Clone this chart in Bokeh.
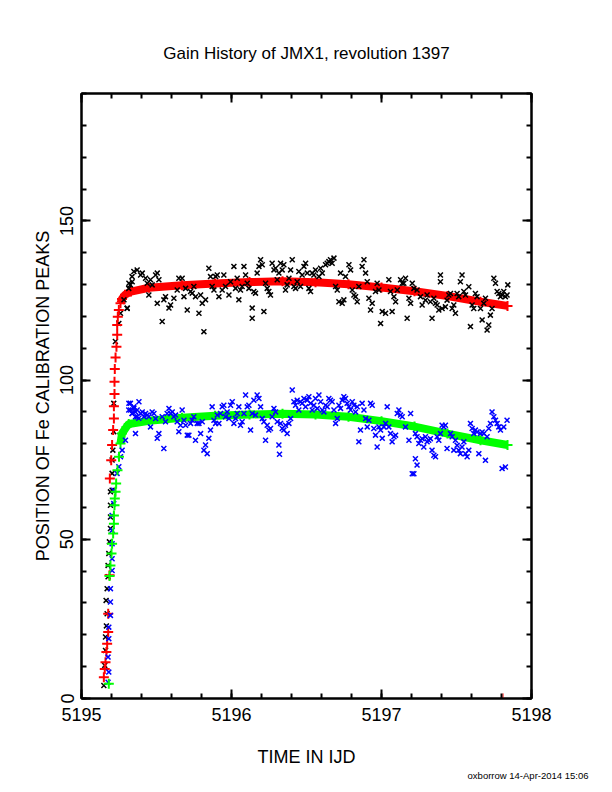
from bokeh.plotting import figure
from bokeh.models import (Range1d, LinearAxis, SingleIntervalTicker, Title,
                          CustomJSTickFormatter)
from bokeh.embed import file_html
from bokeh.resources import INLINE

FONT = "Liberation Sans"

# fitted gain (red, peak 1): steep start-up, then the smooth band
fit1_rise_t = [5195.149, 5195.155, 5195.160, 5195.166, 5195.171, 5195.178, 5195.178,
               5195.187, 5195.189, 5195.198, 5195.204, 5195.211, 5195.216, 5195.216,
               5195.220, 5195.220, 5195.222, 5195.227, 5195.233, 5195.238, 5195.238,
               5195.242, 5195.249]
fit1_rise_v = [6.7, 9.3, 11.4, 14.6, 17.2, 20.9, 26.6, 38.7, 69.1, 74.8, 79.6, 84.3,
               87.9, 91.8, 95.6, 99.5, 103.5, 107.1, 110.5, 114.2, 117.3, 119.9, 122.0]
fit1_t = [5195.26, 5195.27, 5195.29, 5195.33, 5195.45, 5195.67, 5195.89, 5196.12,
          5196.34, 5196.56, 5196.78, 5197.00, 5197.22, 5197.44, 5197.66, 5197.84]
fit1_v = [124.1, 125.5, 126.8, 127.8, 129.0, 129.8, 130.3, 130.8,
          131.0, 130.7, 130.1, 129.1, 127.9, 126.4, 124.6, 123.3]

# fitted gain (green, peak 2)
fit2_rise_t = [5195.182, 5195.187, 5195.193, 5195.200, 5195.204, 5195.211, 5195.216,
               5195.216, 5195.220, 5195.222, 5195.227, 5195.231, 5195.240, 5195.250]
fit2_rise_v = [4.6, 38.5, 41.8, 45.5, 48.6, 51.8, 54.9, 57.5, 60.7, 62.8, 64.9, 67.5,
               71.7, 75.9]
fit2_t = [5195.26, 5195.27, 5195.30, 5195.315, 5195.45, 5195.67, 5195.89, 5196.12,
          5196.34, 5196.56, 5196.78, 5197.00, 5197.22, 5197.44, 5197.66, 5197.84]
fit2_v = [80.1, 83.2, 85.3, 86.2, 87.2, 88.2, 88.8, 89.2,
          89.4, 89.2, 88.5, 87.1, 85.4, 83.2, 81.1, 79.6]

# measured peak 1 (black x)
peak1_t = [
    5195.149, 5195.155, 5195.160, 5195.160, 5195.166, 5195.171, 5195.164, 5195.171,
    5195.177, 5195.177, 5195.182, 5195.186, 5195.193, 5195.193, 5195.193, 5195.193,
    5195.204, 5195.204, 5195.204, 5195.209, 5195.215, 5195.215, 5195.226, 5195.249,
    5195.260, 5195.304, 5195.315, 5195.326, 5195.337,
    5195.316, 5195.338, 5195.349, 5195.371, 5195.394, 5195.405, 5195.427, 5195.438,
    5195.460, 5195.471, 5195.494, 5195.505, 5195.516, 5195.305, 5195.283, 5195.449,
    5195.505, 5195.549, 5195.538, 5195.583, 5195.594, 5195.560, 5195.616, 5195.638,
    5195.649, 5195.671, 5195.694, 5195.705, 5195.683, 5195.727, 5195.738, 5195.749,
    5195.760, 5195.783, 5195.794, 5195.805, 5195.816, 5195.827, 5195.849, 5195.860,
    5195.871, 5195.883, 5195.894, 5195.905, 5195.916, 5195.938, 5195.949, 5195.960,
    5195.983, 5195.994, 5196.016, 5196.027, 5196.038, 5196.049, 5196.060, 5196.071,
    5196.083, 5196.094, 5196.105, 5196.116, 5196.138, 5196.138, 5196.149, 5196.160,
    5196.171, 5196.183, 5196.194, 5196.205, 5196.216, 5196.227, 5196.238, 5196.249,
    5196.260, 5196.271, 5196.283, 5196.294, 5196.305, 5196.316, 5196.327, 5196.338,
    5196.349, 5196.360, 5196.371, 5196.383, 5196.394, 5196.405, 5196.416, 5196.427,
    5196.438, 5196.449, 5196.460, 5196.471, 5196.483, 5196.494, 5196.505, 5196.516,
    5196.527, 5196.538, 5196.549, 5196.560, 5196.583, 5196.594, 5196.605, 5196.627,
    5196.638, 5196.649, 5196.660, 5196.671, 5196.683, 5196.694, 5196.705, 5196.716,
    5196.727, 5196.738, 5196.749, 5196.760, 5196.783, 5196.794, 5196.805, 5196.816,
    5196.827, 5196.838, 5196.849, 5196.871, 5196.883, 5196.894, 5196.905, 5196.916,
    5196.927, 5196.938, 5196.960, 5196.971, 5196.983, 5197.005, 5197.027, 5197.049,
    5197.060, 5197.071, 5197.083, 5197.094, 5197.105, 5197.127, 5197.138, 5197.149,
    5197.160, 5197.171, 5197.183, 5197.194, 5197.205, 5197.216, 5196.994,
    5197.237, 5197.260, 5197.271, 5197.293, 5197.304, 5197.326, 5197.337, 5197.349,
    5197.360, 5197.371, 5197.382, 5197.393, 5197.393, 5197.404, 5197.426, 5197.437,
    5197.449, 5197.460, 5197.471, 5197.482, 5197.493, 5197.504, 5197.515, 5197.526,
    5197.537, 5197.549, 5197.560, 5197.582, 5197.593, 5197.604, 5197.615, 5197.626,
    5197.637, 5197.660, 5197.671, 5197.682, 5197.693, 5197.704, 5197.715, 5197.726,
    5197.737, 5197.749, 5197.760, 5197.771, 5197.782, 5197.793, 5197.804, 5197.815,
    5197.826, 5197.842, 5197.837]
peak1_v = [
    4.1, 10.4, 15.1, 19.3, 22.8, 26.6, 30.8, 34.5,
    38.2, 41.8, 45.5, 49.2, 53.4, 57.0, 60.7, 64.9,
    65.4, 70.7, 74.9, 78.0, 83.8, 92.7, 112.1, 117.8,
    121.0, 122.5, 128.8, 129.9, 132.5,
    130.4, 130.9, 134.1, 134.6, 133.0, 133.6, 132.0, 130.4,
    131.5, 129.9, 133.0, 133.6, 131.5, 122.6, 125.2, 126.7,
    124.1, 125.2, 118.4, 122.6, 123.6, 126.2, 125.7, 128.3,
    132.0, 132.0, 128.8, 122.0, 126.2, 127.8, 127.3, 129.4,
    126.2, 121.0, 126.7, 124.1, 115.2, 125.2, 135.1, 132.5,
    129.4, 128.3, 132.5, 133.0, 126.2, 128.3, 133.0, 129.4,
    126.7, 130.9, 135.7, 128.8, 132.0, 125.2, 128.3, 129.4,
    135.7, 133.0, 130.4, 128.8, 122.6, 119.4, 127.8, 127.3,
    133.6, 135.7, 137.8, 136.2, 121.5, 130.4, 128.8, 127.8,
    126.7, 136.7, 134.6, 135.1, 131.5, 133.6, 136.7, 134.6,
    136.2, 128.3, 129.9, 132.0, 134.6, 137.8, 129.4, 128.8,
    130.9, 134.1, 129.4, 133.0, 135.7, 136.7, 133.6, 128.8,
    127.8, 133.6, 133.0, 134.6, 132.5, 135.1, 133.6, 136.2,
    136.7, 137.2, 137.8, 136.7, 138.3, 129.4, 128.3, 124.6,
    133.6, 124.1, 125.2, 132.5, 136.2, 134.6, 128.3, 126.7,
    126.2, 124.6, 129.4, 135.7, 137.8, 133.6, 130.9, 125.7,
    122.0, 124.1, 127.8, 130.4, 128.3, 121.5, 121.0, 131.5,
    127.8, 121.5, 126.2, 124.6, 128.3, 131.5, 130.4, 130.4,
    132.0, 119.4, 125.7, 124.1, 130.4, 128.8, 117.8,
    128.3, 126.2, 123.6, 125.1, 126.7, 124.6, 119.4, 125.7,
    124.1, 123.6, 122.0, 133.0, 130.9, 122.5, 123.0, 125.1,
    126.7, 127.2, 122.5, 123.6, 121.0, 127.2, 126.2, 130.9,
    133.0, 127.8, 126.7, 129.3, 116.8, 123.6, 122.5, 127.2,
    126.2, 122.5, 118.9, 124.1, 125.7, 115.7, 117.3, 120.4,
    122.5, 132.0, 130.4, 127.8, 127.2, 126.2, 126.7, 127.8,
    126.2, 129.9, 126.7]

# measured peak 2 (blue x)
peak2_t = [
    5195.177, 5195.182, 5195.177, 5195.182, 5195.182, 5195.193, 5195.193, 5195.193,
    5195.204, 5195.204, 5195.204, 5195.204, 5195.204, 5195.215, 5195.215, 5195.237,
    5195.249, 5195.260, 5195.271, 5195.293, 5195.360, 5195.315, 5195.326, 5195.349,
    5195.371, 5195.337, 5195.360, 5195.382,
    5195.316, 5195.327, 5195.338, 5195.349, 5195.360, 5195.371, 5195.383, 5195.394,
    5195.405, 5195.416, 5195.427, 5195.438, 5195.449, 5195.460, 5195.471, 5195.483,
    5195.494, 5195.505, 5195.516, 5195.538, 5195.549, 5195.560, 5195.571, 5195.583,
    5195.594, 5195.605, 5195.616, 5195.627, 5195.638, 5195.649, 5195.660, 5195.671,
    5195.683, 5195.694, 5195.705, 5195.716, 5195.727, 5195.738, 5195.749, 5195.760,
    5195.771, 5195.783, 5195.794, 5195.805, 5195.816, 5195.827, 5195.838, 5195.849,
    5195.860, 5195.871, 5195.883, 5195.894, 5195.905, 5195.916, 5195.927, 5195.938,
    5195.949, 5195.960, 5195.971, 5195.983, 5195.994, 5196.005, 5196.016, 5196.027,
    5196.038, 5196.049, 5196.060, 5196.071, 5196.083, 5196.094, 5196.105, 5196.116,
    5196.127, 5196.138, 5196.149, 5196.160, 5196.171, 5196.183, 5196.194, 5196.205,
    5196.216, 5196.227, 5196.238, 5196.249, 5196.260, 5196.271, 5196.283, 5196.294,
    5196.305, 5196.316, 5196.320, 5196.327, 5196.338, 5196.349, 5196.360, 5196.371,
    5196.383, 5196.394, 5196.405, 5196.416, 5196.427, 5196.438, 5196.449, 5196.460,
    5196.471, 5196.483, 5196.494, 5196.505, 5196.516, 5196.527, 5196.538, 5196.549,
    5196.560, 5196.572, 5196.583, 5196.594, 5196.605, 5196.616, 5196.627, 5196.638,
    5196.649, 5196.660, 5196.671, 5196.683, 5196.694, 5196.705, 5196.716, 5196.727,
    5196.738, 5196.749, 5196.760, 5196.771, 5196.783, 5196.794, 5196.805, 5196.816,
    5196.827, 5196.838, 5196.849, 5196.860, 5196.871, 5196.883, 5196.894, 5196.905,
    5196.916, 5196.927, 5196.938, 5196.949, 5196.960, 5196.971, 5196.983, 5196.994,
    5197.005, 5197.016, 5197.027, 5197.038, 5197.049, 5197.060, 5197.071, 5197.083,
    5197.094, 5197.105, 5197.116, 5197.127, 5197.138, 5197.160, 5197.183, 5197.194,
    5197.205, 5197.216,
    5197.226, 5197.237, 5197.249, 5197.260, 5197.271, 5197.282, 5197.293, 5197.304,
    5197.315, 5197.326, 5197.337, 5197.349, 5197.360, 5197.371, 5197.382, 5197.393,
    5197.404, 5197.415, 5197.426, 5197.437, 5197.460, 5197.471, 5197.482, 5197.493,
    5197.504, 5197.515, 5197.526, 5197.537, 5197.549, 5197.560, 5197.571, 5197.582,
    5197.593, 5197.604, 5197.615, 5197.626, 5197.637, 5197.649, 5197.660, 5197.671,
    5197.682, 5197.693, 5197.704, 5197.715, 5197.726, 5197.737, 5197.749, 5197.760,
    5197.771, 5197.782, 5197.793, 5197.804, 5197.815, 5197.826, 5197.837, 5197.226,
    5197.237]
peak2_v = [
    5.1, 8.3, 13.0, 18.8, 22.4, 26.1, 30.3, 34.5,
    40.2, 43.9, 48.6, 52.8, 57.5, 61.2, 65.4, 70.7,
    72.8, 75.9, 78.0, 81.1, 83.2, 90.6, 92.7, 91.6,
    90.6, 89.5, 88.5, 88.0,
    92.7, 90.6, 89.5, 91.1, 90.0, 88.5, 93.2, 89.5,
    90.0, 88.5, 89.5, 89.0, 88.5, 85.3, 90.0, 89.5,
    87.9, 81.7, 83.2, 88.5, 78.5, 86.9, 89.5, 91.1,
    89.5, 90.0, 88.5, 89.0, 86.9, 83.8, 85.8, 90.6,
    87.4, 85.8, 82.7, 82.7, 86.4, 87.4, 88.5, 81.1,
    86.4, 86.4, 83.2, 86.9, 78.0, 79.6, 76.9, 81.7,
    84.3, 91.6, 87.4, 86.4, 89.0, 86.4, 89.5, 91.6,
    92.1, 88.5, 90.0, 87.9, 92.1, 93.2, 86.4, 87.9,
    89.5, 91.6, 85.8, 86.9, 89.5, 95.3, 91.6, 92.1,
    84.3, 89.5, 93.7, 89.0, 95.3, 94.2, 91.6, 87.9,
    86.9, 81.1, 85.8, 84.3, 84.8, 88.5, 91.1, 90.0,
    86.9, 79.6, 76.7, 86.4, 84.8, 84.3, 85.8, 83.2,
    86.4, 87.9, 96.9, 93.2, 92.1, 93.7, 90.6, 93.2,
    92.7, 94.2, 91.6, 93.7, 94.8, 92.7, 90.6, 92.1,
    94.2, 91.1, 95.3, 93.2, 90.6, 90.0, 92.1, 91.6,
    94.2, 93.7, 93.2, 90.6, 86.4, 87.9, 92.1, 91.1,
    93.7, 94.8, 94.2, 92.7, 91.6, 90.6, 93.2, 92.1,
    90.0, 91.6, 80.6, 84.3, 92.7, 90.6, 87.9, 85.3,
    87.4, 92.7, 92.1, 84.8, 82.7, 79.0, 85.3, 84.3,
    81.7, 85.3, 86.4, 91.6, 85.3, 83.2, 80.6, 82.2,
    82.7, 89.5, 90.6, 89.0, 88.5, 85.3, 81.1, 89.5,
    70.6, 70.6,
    83.2, 82.2, 80.1, 81.1, 81.6, 79.0, 82.2, 80.6,
    81.1, 81.6, 78.0, 76.4, 75.9, 82.2, 81.1, 83.2,
    85.8, 85.3, 85.8, 78.5, 83.2, 82.2, 78.0, 81.1,
    79.5, 78.0, 76.9, 79.0, 80.6, 76.9, 75.9, 78.0,
    86.4, 84.8, 83.2, 84.3, 83.7, 76.9, 83.2, 83.7,
    83.2, 74.8, 82.2, 84.8, 86.4, 90.0, 88.5, 87.4,
    86.4, 85.3, 84.3, 72.2, 85.3, 72.7, 87.4, 75.3,
    73.3]

end_mark_t = [5197.81]
end_mark_v = [1.6]

x_ticks_major = 1
y_ticks_major = 50

title_text = "Gain History of JMX1, revolution 1397"
xlabel_text = "TIME IN IJD"
ylabel_text = "POSITION OF Fe CALIBRATION PEAKS"
footer_text = "oxborrow 14-Apr-2014 15:06"

p = figure(frame_width=450, frame_height=605,
           x_range=Range1d(5195, 5198), y_range=Range1d(0, 190),
           min_border_left=81, min_border_right=73,
           min_border_top=93, min_border_bottom=86,
           output_backend="svg", toolbar_location=None, tools="",
           x_axis_type=None, y_axis_type=None)
p.grid.visible = False
p.outline_line_color = "black"
p.outline_line_width = 2
p.background_fill_color = "white"
p.border_fill_color = "white"


def make_axis(interval, labels, **kw):
    ax = LinearAxis(ticker=SingleIntervalTicker(interval=interval, num_minor_ticks=5), **kw)
    ax.axis_line_width = 2
    ax.major_tick_in = 9
    ax.major_tick_out = 0
    ax.minor_tick_in = 5
    ax.minor_tick_out = 0
    ax.major_tick_line_width = 2
    ax.minor_tick_line_width = 2
    ax.major_label_text_font = FONT
    ax.major_label_text_color = "black"
    ax.axis_label_text_font = FONT
    ax.axis_label_text_color = "black"
    ax.axis_label_text_font_style = "normal"
    if not labels:
        ax.formatter = CustomJSTickFormatter(code="return ''")
        ax.major_label_standoff = 0
    return ax


xb = make_axis(x_ticks_major, True, axis_label=xlabel_text)
xb.major_label_text_font_size = "18px"
xb.major_label_standoff = 9
xb.axis_label_text_font_size = "18px"
xb.axis_label_standoff = 23
p.add_layout(xb, "below")

yl = make_axis(y_ticks_major, True, axis_label=ylabel_text)
yl.major_label_orientation = "parallel"
yl.major_label_text_font_size = "18px"
yl.major_label_standoff = 8
yl.axis_label_text_font_size = "18px"
yl.axis_label_standoff = 5
p.add_layout(yl, "left")

p.add_layout(make_axis(x_ticks_major, False), "above")
p.add_layout(make_axis(y_ticks_major, False), "right")

# fits and measurements
p.line(fit1_t, fit1_v, line_width=8, color="#ff0000")
p.scatter(fit1_t, fit1_v, marker="cross", size=10, line_width=2, color="#ff0000")
p.scatter(peak1_t, peak1_v, marker="x", size=7, line_width=1.5, color="black")
p.scatter(fit1_rise_t, fit1_rise_v, marker="cross", size=10, line_width=2, color="#ff0000")

p.line(fit2_t, fit2_v, line_width=8, color="#00ff00")
p.scatter(fit2_t, fit2_v, marker="cross", size=10, line_width=2, color="#00ff00")
p.scatter(peak2_t, peak2_v, marker="x", size=7, line_width=1.5, color="#0000ff")
p.scatter(fit2_rise_t, fit2_rise_v, marker="cross", size=10, line_width=2, color="#00ff00")

p.segment(x0=end_mark_t, y0=[0], x1=end_mark_t, y1=end_mark_v,
          color="#ff0000", line_width=1)

p.title = Title(text=title_text, align="center", text_font=FONT,
                text_font_size="17px", text_font_style="normal",
                text_color="black", standoff=61)
p.add_layout(Title(text=footer_text, align="right", offset=-57, text_font=FONT,
                   text_font_size="9.5px", text_font_style="normal",
                   text_color="black", standoff=-4), "below")

open("out.html", "w").write(file_html(p, INLINE))
